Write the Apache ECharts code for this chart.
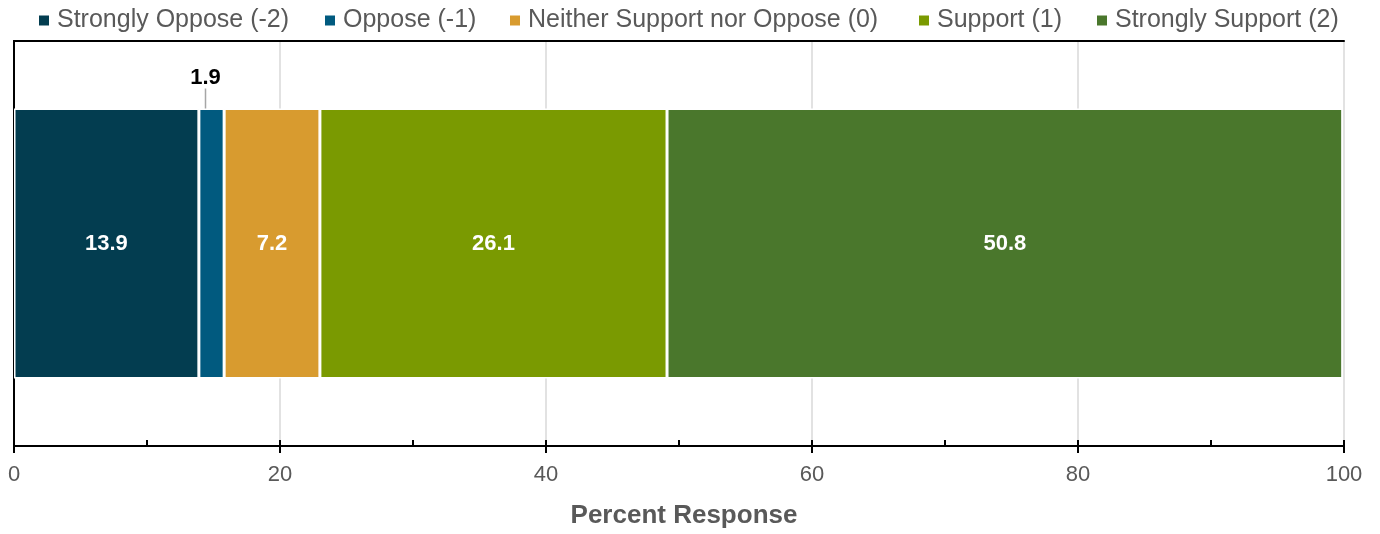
<!DOCTYPE html>
<html>
<head>
<meta charset="utf-8">
<script src="https://cdn.jsdelivr.net/npm/echarts@6/dist/echarts.min.js"></script>
<style>
  html, body { margin: 0; padding: 0; background: #ffffff; }
  #chart { width: 1380px; height: 534px; }
</style>
</head>
<body>
<div id="chart"></div>
<script>
// Survey response shares (percent of respondents)
const categories = ['Response'];
const seriesNames = [
  'Strongly Oppose (-2)',
  'Oppose (-1)',
  'Neither Support nor Oppose (0)',
  'Support (1)',
  'Strongly Support (2)'
];
const stronglyOppose = [13.9];
const oppose = [1.9];
const neither = [7.2];
const support = [26.1];
const stronglySupport = [50.8];
const seriesValues = [stronglyOppose, oppose, neither, support, stronglySupport];
const seriesColors = ['#033d50', '#015a7f', '#d89b2f', '#7a9a01', '#4a772c'];
const legendLeft = [37, 323, 508, 917, 1095];
const xTicks = [0, 20, 40, 60, 80, 100];

const FONT = '"Liberation Sans", Arial, sans-serif';
const chart = echarts.init(document.getElementById('chart'), null, { renderer: 'canvas' });

const series = seriesNames.map((name, i) => {
  const s = {
    name: name,
    type: 'bar',
    stack: 'total',
    barWidth: 270,
    xAxisIndex: 0,
    yAxisIndex: 0,
    data: seriesValues[i],
    itemStyle: { color: seriesColors[i], borderColor: '#ffffff', borderWidth: 1.5 },
    label: {
      show: true,
      position: 'inside',
      color: '#ffffff',
      fontFamily: FONT,
      fontWeight: 'bold',
      fontSize: 22,
      formatter: p => p.value.toFixed(1)
    }
  };
  if (i === 1) {
    // narrow segment: label sits above the bar with a leader line
    s.label = Object.assign({}, s.label, { position: 'top', color: '#000000', distance: 2 });
    s.labelLayout = { dx: -6, dy: -18 };
    s.labelLine = { show: true, lineStyle: { color: '#a6a6a6', width: 1.5 } };
  }
  return s;
});

const legends = seriesNames.map((name, i) => ({
  data: [name],
  top: 8,
  left: legendLeft[i],
  icon: 'rect',
  itemWidth: 12,
  itemHeight: 12,
  itemGap: 7,
  padding: 0,
  selectedMode: false,
  textStyle: { color: '#595959', fontSize: 25, fontFamily: FONT, padding: [0, 0, 0, 2] }
}));

const frameLine = { show: true, lineStyle: { color: '#000000', width: 2 } };

chart.setOption({
  animation: false,
  backgroundColor: '#ffffff',
  legend: legends,
  grid: { left: 14, right: 36, top: 41, bottom: 84 },
  xAxis: [
    {
      type: 'value',
      min: 0, max: 100, interval: 20,
      name: 'Percent Response',
      nameLocation: 'middle',
      nameGap: 57,
      nameTextStyle: { color: '#595959', fontSize: 26, fontWeight: 'bold', fontFamily: FONT, padding: [0, 0, 0, 10] },
      axisLine: frameLine,
      axisTick: { show: true, inside: true, length: 6, lineStyle: { color: '#000000', width: 2 } },
      minorTick: { show: true, splitNumber: 2, length: 6, lineStyle: { color: '#000000', width: 2 } },
      axisLabel: {
        color: '#595959', fontSize: 22, fontFamily: FONT, margin: 18,
        formatter: v => (xTicks.indexOf(v) >= 0 ? String(v) : '')
      },
      splitLine: { show: true, lineStyle: { color: '#d9d9d9', width: 1.5 } },
      minorSplitLine: { show: false }
    },
    {
      // lower half of the major tick marks
      type: 'value',
      position: 'bottom',
      min: 0, max: 100, interval: 20,
      axisLine: { show: false },
      axisTick: { show: true, inside: false, length: 7, lineStyle: { color: '#000000', width: 2 } },
      axisLabel: { show: false },
      splitLine: { show: false }
    },
    {
      // top edge of the plot frame
      type: 'value',
      position: 'top',
      min: 0, max: 100, interval: 20,
      axisLine: frameLine,
      axisTick: { show: false },
      axisLabel: { show: false },
      splitLine: { show: false }
    }
  ],
  yAxis: [
    {
      type: 'category',
      data: categories,
      axisLine: frameLine,
      axisTick: { show: false },
      axisLabel: { show: false },
      splitLine: { show: false }
    },
    {
      // right edge of the plot frame
      type: 'category',
      position: 'right',
      data: categories,
      axisLine: frameLine,
      axisTick: { show: false },
      axisLabel: { show: false },
      splitLine: { show: false }
    }
  ],
  series: series
});
</script>
</body>
</html>
